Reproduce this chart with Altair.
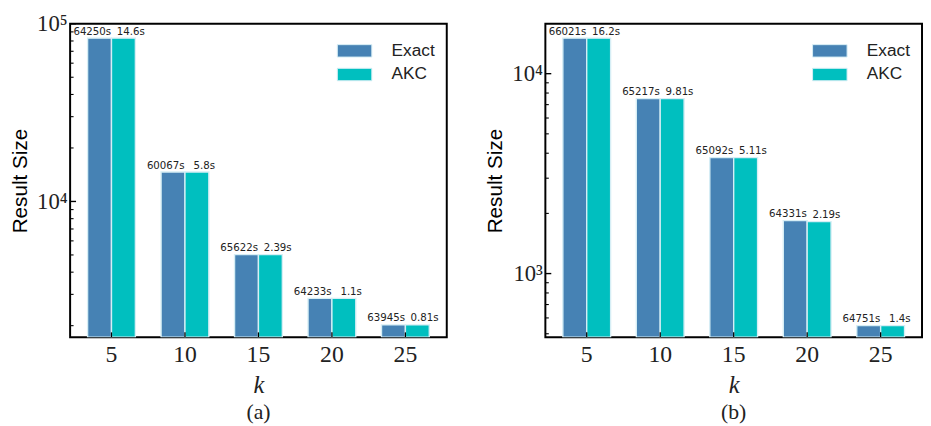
import altair as alt
import pandas as pd

# ---- data ----
ks = ["5", "10", "15", "20", "25"]
series = ["Exact", "AKC"]
colors = ["#4682B4", "#00BFBF"]

a_exact = [83000, 14650, 5020, 2850, 2020]
a_akc = [83000, 14650, 5020, 2850, 2020]
a_exact_t = ["64250s", "60067s", "65622s", "64233s", "63945s"]
a_akc_t = ["14.6s", "5.8s", "2.39s", "1.1s", "0.81s"]
a_domain = [1720, 100000]
a_major = [10000, 100000]
a_minor = [2000, 3000, 4000, 5000, 6000, 7000, 8000, 9000,
           20000, 30000, 40000, 50000, 60000, 70000, 80000, 90000]

b_exact = [15050, 7500, 3800, 1840, 549]
b_akc = [15050, 7500, 3800, 1820, 549]
b_exact_t = ["66021s", "65217s", "65092s", "64331s", "64751s"]
b_akc_t = ["16.2s", "9.81s", "5.11s", "2.19s", "1.4s"]
b_domain = [480, 17770]
b_major = [1000, 10000]
b_minor = [500, 600, 700, 800, 900, 2000, 3000, 4000, 5000, 6000, 7000, 8000, 9000]

SERIF = "Liberation Serif"
SANS = "Liberation Sans"
SMALL = "DejaVu Sans Condensed, DejaVu Sans"

LABEL_EXPR = ("datum.value == 100 ? '10²' : datum.value == 1000 ? '10³' : "
              "datum.value == 10000 ? '10⁴' : '10⁵'")

PLOT_W = 382
PLOT_H = 318


def panel(exact, akc, exact_t, akc_t, ydomain, majors, minors, tag):
    df = pd.DataFrame({
        "k": ks * 2,
        "series": ["Exact"] * len(ks) + ["AKC"] * len(ks),
        "value": exact + akc,
        "label": exact_t + akc_t,
    })
    base = alt.Chart(df)
    xscale = alt.Scale(paddingInner=0.35, paddingOuter=0.238)
    xaxis = alt.Axis(
        title="k", labelAngle=0, labelFont=SERIF, labelFontSize=24,
        labelColor="#222", ticks=False, domain=False, labelPadding=6,
        titleFont=SERIF, titleFontStyle="italic", titleFontWeight="normal",
        titleFontSize=25, titleColor="#222", titlePadding=6,
    )
    yscale = alt.Scale(type="log", domain=ydomain, nice=False)
    yaxis = alt.Axis(
        orient="left", values=majors, labelExpr=LABEL_EXPR,
        ticks=False, domain=False, grid=False,
        labelFont=SERIF, labelFontSize=23, labelColor="#222", labelPadding=3,
        title="Result Size", titleFont=SANS, titleFontSize=21,
        titleFontWeight="normal", titleColor="black", titlePadding=6,
    )

    def X(field="k:N"):
        return alt.X(field, sort=ks, scale=xscale, axis=xaxis)

    def Y(field):
        return alt.Y(field, scale=yscale, axis=yaxis)

    bars = base.mark_bar(stroke="#d6eef5", strokeWidth=1.4, clip=True).encode(
        x=X(),
        xOffset=alt.XOffset("series:N", sort=series,
                            scale=alt.Scale(paddingInner=0, paddingOuter=0)),
        y=Y("value:Q"),
        y2=alt.datum(ydomain[0]),
        color=alt.Color(
            "series:N", sort=series,
            scale=alt.Scale(domain=series, range=colors),
            legend=alt.Legend(
                title=None, orient="none", legendX=279, legendY=18,
                symbolType="M-2,-0.72H2V0.72H-2Z", symbolSize=306,
                symbolStrokeColor="#d6eef5", symbolStrokeWidth=1,
                symbolOpacity=1, labelFont=SANS, labelFontSize=17.5,
                labelColor="#222", labelOffset=28, rowPadding=6, padding=0,
            ),
        ),
    )
    t_exact = base.transform_filter(alt.datum.series == "Exact").mark_text(
        dx=-19.5, dy=-1.5, baseline="bottom", font=SMALL, fontSize=11.5,
        color="#222",
    ).encode(x=X(), y=Y("value:Q"), text="label:N")
    t_akc = base.transform_filter(alt.datum.series == "AKC").mark_text(
        dx=19.5, dy=-1.5, baseline="bottom", font=SMALL, fontSize=11.5,
        color="#222",
    ).encode(x=X(), y=Y("value:Q"), text="label:N")
    # inward-pointing ticks, positioned through the scales
    major_ticks = alt.Chart(pd.DataFrame({"value": majors})).mark_rule(
        color="black", strokeWidth=1.4
    ).encode(y=Y("value:Q"), x=alt.value(0), x2=alt.value(6))
    minor_ticks = alt.Chart(pd.DataFrame({"value": minors})).mark_rule(
        color="black", strokeWidth=1.1
    ).encode(y=Y("value:Q"), x=alt.value(0), x2=alt.value(3.5))
    x_ticks = alt.Chart(pd.DataFrame({"k": ks})).mark_rule(
        color="black", strokeWidth=1.3
    ).encode(x=X(), y=alt.value(PLOT_H), y2=alt.value(PLOT_H - 5))
    return alt.layer(bars, t_exact, t_akc, x_ticks, major_ticks, minor_ticks).properties(
        width=PLOT_W, height=PLOT_H,
        title=alt.TitleParams(tag, orient="bottom", font=SERIF, fontSize=22,
                              fontWeight="normal", color="#222", offset=5),
    )


left = panel(a_exact, a_akc, a_exact_t, a_akc_t, a_domain, a_major, a_minor, "(a)")
right = panel(b_exact, b_akc, b_exact_t, b_akc_t, b_domain, b_major, b_minor, "(b)")

chart = alt.hconcat(left, right, spacing=100, bounds="flush").resolve_scale(
    color="independent"
).configure_view(stroke="black", strokeWidth=2).properties(
    padding={"left": 0, "top": 1, "right": 0, "bottom": 0}
)

chart.save("out.html", embed_options={"renderer": "svg", "actions": False})
